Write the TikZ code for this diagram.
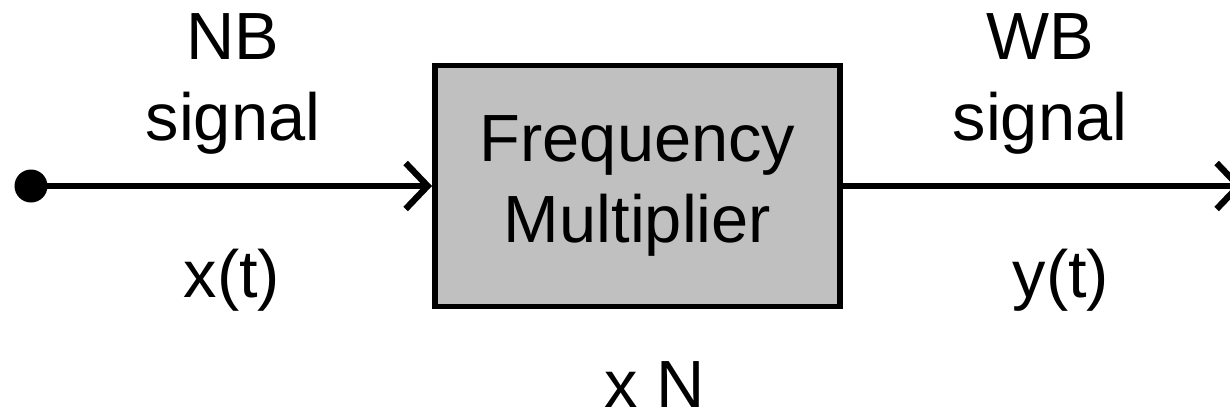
\documentclass[tikz,border=0pt]{standalone}
\usepackage{fontspec}
\setmainfont{Liberation Sans}
\usetikzlibrary{arrows.meta}

\definecolor{boxgray}{HTML}{C0C0C0}

\begin{document}
\begin{tikzpicture}[
    font=\fontsize{19}{23.3}\selectfont,
    sig/.style={line width=1.8pt, -{Straight Barb[length=2.2mm, width=4.6mm]}},
    block/.style={draw, line width=1.7pt, fill=boxgray, minimum width=4.05cm,
      minimum height=2.41cm, align=center},
    txt/.style={align=center, inner sep=0pt}
  ]
    \useasboundingbox (0,0) rectangle (12.3,4.12);

    \node[block] (mult) at (6.375,2.26) {Frequency\\Multiplier};
    \node[circle, fill, inner sep=0pt, minimum size=3.3mm] (src) at (0.31,2.26) {};
    \coordinate (out) at (12.43,2.26);

    \draw[sig] (src.center) -- (mult.west);
    \draw[sig] (mult.east) -- (out);

    \node[txt] (nbsig) at (2.33,3.28) {NB\\signal};
    \node[txt, anchor=base] (xin) at (2.32,1.15) {x(t)};

    \node[txt] (wbsig) at (10.40,3.28) {WB\\signal};
    \node[txt, anchor=base] (yout) at (10.61,1.15) {y(t)};

    \node[txt, anchor=base] (gain) at (6.55,0.05) {x N};
  \end{tikzpicture}
\end{document}
